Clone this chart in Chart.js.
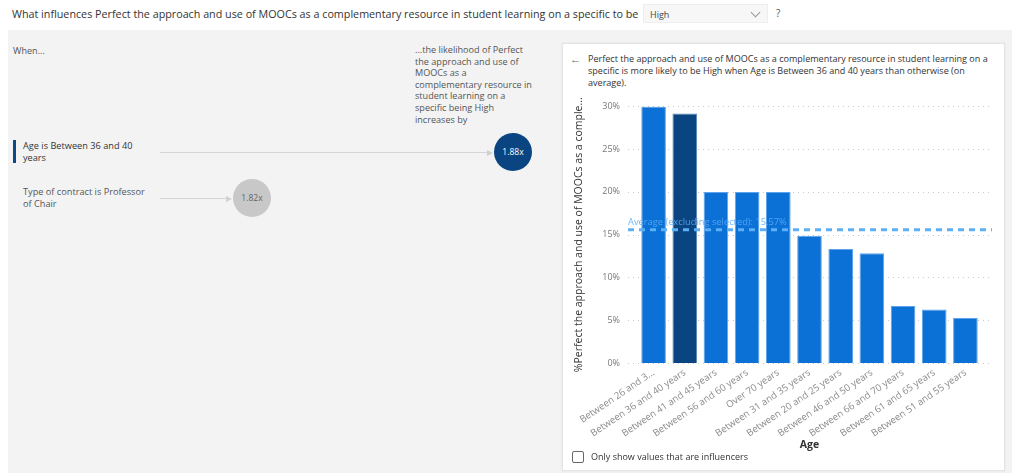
<!DOCTYPE html>
<html>
<head>
<meta charset="utf-8">
<script src="https://cdn.jsdelivr.net/npm/chart.js"></script>
<style>
  body{margin:0;width:1012px;height:473px;overflow:hidden;background:#fff;font-family:"Open Sans",sans-serif;color:#333;position:relative}
  .abs{position:absolute}
  #header{left:0;top:0;width:1012px;height:30px;background:#fff}
  #question{left:12px;top:7px;font-size:10.75px;white-space:nowrap}
  #dropdown{left:643px;top:4px;width:125px;height:19px;background:#f7f7f7;box-sizing:border-box;border:1px solid #eee}
  #dropdown span{position:absolute;left:6px;top:3px;font-size:9px;color:#444}
  #dropdown i{position:absolute;right:8px;top:4px;width:6px;height:6px;border-right:1px solid #999;border-bottom:1px solid #999;transform:rotate(45deg)}
  #help{left:776px;top:6px;font-size:10px;color:#555}
  #canvasBg{left:8px;top:30px;width:1004px;height:443px;background:#f3f3f3}
  .small{font-size:9.1px;color:#555;line-height:11.6px}
  #when{left:13px;top:45px}
  #likely{left:415px;top:44px;width:120px}
  .factor{font-size:9.2px;color:#333;line-height:12px;width:130px}
  .marker{width:3px;background:#0b4a87}
  .link{height:1px;background:#d6d6d6}
  .arrow{width:0;height:0;border-top:3px solid transparent;border-bottom:3px solid transparent;border-left:6px solid #d0d0d0}
  .bubble{border-radius:50%;font-size:8.5px;text-align:center}
  #card{left:562px;top:43px;width:443px;height:428px;background:#fff;box-sizing:border-box;border:1px solid #e4e4e4;box-shadow:0 0 2px rgba(0,0,0,0.08)}
  #back{left:570px;top:51px;font-size:11px;color:#666}
  #explain{left:588px;top:53px;width:412px;font-size:9.05px;line-height:12px;color:#333}
  #chk{left:572px;top:451px;width:12px;height:12px;box-sizing:border-box;border:1.5px solid #666;border-radius:2px}
  #chkText{left:591px;top:450px;font-size:9px;color:#333}
  #chart{left:565px;top:83px}
</style>
</head>
<body>
<div class="abs" id="header"></div>
<div class="abs" id="question">What influences Perfect the approach and use of MOOCs as a complementary resource in student learning on a specific to be</div>
<div class="abs" id="dropdown"><span>High</span><i></i></div>
<div class="abs" id="help">?</div>
<div class="abs" id="canvasBg"></div>

<div class="abs small" id="when">When...</div>
<div class="abs small" id="likely">...the likelihood of Perfect the approach and use of MOOCs as a complementary resource in student learning on a specific being High increases by</div>
<div id="influencers"></div>

<div class="abs" id="card"></div>
<div class="abs" id="back">&#8592;</div>
<div class="abs" id="explain">Perfect the approach and use of MOOCs as a complementary resource in student learning on a specific is more likely to be High when Age is Between 36 and 40 years than otherwise (on average).</div>
<canvas class="abs" id="chart" width="440" height="371"></canvas>
<div class="abs" id="chk"></div>
<div class="abs" id="chkText">Only show values that are influencers</div>

<script>
// key influencers (left list)
const factorNames = ["Age is Between 36 and 40 years", "Type of contract is Professor of Chair"];
const factorLift = [1.88, 1.82];

// bar chart: share of "High" per age group
const ages = ["Between 26 and 30 years","Between 36 and 40 years","Between 41 and 45 years","Between 56 and 60 years","Over 70 years","Between 31 and 35 years","Between 20 and 25 years","Between 46 and 50 years","Between 66 and 70 years","Between 61 and 65 years","Between 51 and 55 years"];
const pctHigh = [30.0, 29.17, 20.0, 20.0, 20.0, 14.89, 13.33, 12.82, 6.67, 6.25, 5.26];
const selectedAge = "Between 36 and 40 years";
const avgOthers = 15.57;
const yTicks = [0, 5, 10, 15, 20, 25, 30];

const BLUE = "#0b71d7", NAVY = "#0a4581";

/* ---------- left side rows ---------- */
const rowTops = [140, 186];
const bubbleX = [513, 252];
const box = document.getElementById("influencers");
factorNames.forEach((name, i) => {
  const cy = rowTops[i] + 12;
  const top = i === 0;
  let html = "";
  if (top) html += `<div class="abs marker" style="left:13px;top:${rowTops[i]}px;height:23px"></div>`;
  html += `<div class="abs factor" style="left:23px;top:${rowTops[i]}px;color:${top ? '#333' : '#555'}">${name}</div>`;
  html += `<div class="abs link" style="left:160px;top:${cy}px;width:${bubbleX[i] - 19 - 160 - 6}px"></div>`;
  html += `<div class="abs arrow" style="left:${bubbleX[i] - 19 - 7}px;top:${cy - 2.5}px"></div>`;
  html += `<div class="abs bubble" style="left:${bubbleX[i] - 19}px;top:${cy - 19}px;width:38px;height:38px;line-height:38px;background:${top ? NAVY : '#c8c8c8'};color:${top ? '#fff' : '#666'}">${factorLift[i].toFixed(2)}x</div>`;
  box.insertAdjacentHTML("beforeend", html);
});

/* ---------- chart ---------- */
Chart.defaults.font.family = '"Open Sans", sans-serif';

// dotted gridlines running a bit past the plot on both sides
const dottedGrid = {
  id: "dottedGrid",
  beforeDatasetsDraw(chart) {
    const { ctx, chartArea: a, scales: { y } } = chart;
    ctx.save();
    ctx.strokeStyle = "#c9c9c9";
    ctx.lineWidth = 1;
    ctx.setLineDash([1, 4]);
    yTicks.forEach(t => {
      const py = Math.round(y.getPixelForValue(t)) + 0.5;
      ctx.beginPath();
      ctx.moveTo(a.left - 10, py);
      ctx.lineTo(a.right + 11, py);
      ctx.stroke();
    });
    ctx.restore();
  }
};

// dashed average line with its caption
const averageLine = {
  id: "averageLine",
  afterDatasetsDraw(chart) {
    const { ctx, chartArea: a, scales: { y } } = chart;
    const py = y.getPixelForValue(avgOthers);
    ctx.save();
    ctx.strokeStyle = "#5cb0f6";
    ctx.lineWidth = 3;
    ctx.setLineDash([6, 5]);
    ctx.beginPath();
    ctx.moveTo(a.left - 10, py);
    ctx.lineTo(a.right + 11, py);
    ctx.stroke();
    ctx.fillStyle = "rgba(90,172,245,0.85)";
    ctx.font = '9.3px "Open Sans", sans-serif';
    ctx.textBaseline = "bottom";
    ctx.fillText(`Average (excluding selected): ${avgOthers.toFixed(2)}%`, a.left - 10, py - 3);
    ctx.restore();
  }
};

new Chart(document.getElementById("chart"), {
  type: "bar",
  data: {
    labels: ages,
    datasets: [{
      data: pctHigh,
      backgroundColor: ages.map(a => a === selectedAge ? NAVY : BLUE),
      borderColor: ages.map(a => a === selectedAge ? "#5b86b3" : "#5ea3ea"),
      borderWidth: 1,
      barPercentage: 0.79,
      categoryPercentage: 1
    }]
  },
  options: {
    responsive: false,
    animation: false,
    layout: { padding: { left: 4, top: 10, right: 24, bottom: 3 } },
    plugins: { legend: { display: false }, tooltip: { enabled: false } },
    scales: {
      x: {
        grid: { display: false, drawTicks: false },
        border: { display: false },
        ticks: {
          autoSkip: false, minRotation: 34, maxRotation: 34, padding: 4,
          color: "#8a8a8a", font: { size: 9.6 },
          callback: (v, i) => i === 0 ? "Between 26 and 3..." : ages[i]
        },
        title: { display: true, text: "Age", color: "#333", font: { size: 10.5, weight: "bold" }, padding: { top: 4, bottom: 0 } },
        afterFit: s => { s.height = 88; }
      },
      y: {
        min: 0, max: 30,
        grid: { display: false, drawTicks: false },
        border: { display: false },
        ticks: { stepSize: 5, padding: 18, color: "#777", font: { size: 9 }, callback: v => v + "%" },
        title: { display: true, text: "%Perfect the approach and use of MOOCs as a comple...", color: "#333", font: { size: 10.5 }, padding: { top: 4, bottom: 0 } },
        afterFit: s => { s.width = 69; }
      }
    }
  },
  plugins: [dottedGrid, averageLine]
});
</script>
</body>
</html>
